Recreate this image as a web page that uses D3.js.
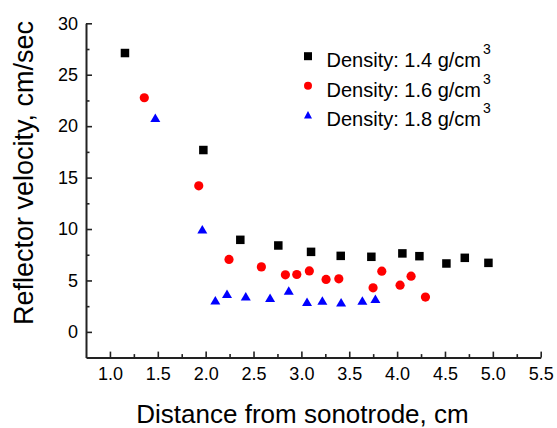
<!DOCTYPE html>
<meta charset="utf-8">
<style>
  body { margin: 0; background: #fff; }
  text { font-family: Arial, "Liberation Sans", sans-serif; fill: #000; }
  .axis path, .axis line { stroke: #222; }
</style>
<body>
<script src="https://d3js.org/d3.v7.min.js"></script>
<script>

// distance (cm) and reflector velocity (cm/sec)
var x14 = [1.157, 1.976, 2.362, 2.759, 3.101, 3.411, 3.731, 4.055, 4.233, 4.515, 4.707, 4.954];
var v14 = [27.11, 17.68, 8.95, 8.40, 7.78, 7.39, 7.30, 7.63, 7.36, 6.65, 7.20, 6.71];

var x16 = [1.359, 1.928, 2.244, 2.582, 2.833, 2.952, 3.083, 3.258, 3.391, 3.749, 3.840, 4.031, 4.146, 4.296];
var v16 = [22.76, 14.20, 7.04, 6.32, 5.55, 5.58, 5.93, 5.10, 5.16, 4.28, 5.90, 4.54, 5.42, 3.38];

var x18 = [1.474, 1.965, 2.101, 2.223, 2.419, 2.673, 2.868, 3.059, 3.219, 3.415, 3.637, 3.773];
var v18 = [20.82, 9.99, 3.08, 3.70, 3.47, 3.31, 4.03, 2.92, 3.05, 2.89, 3.05, 3.21];

var xTicks = [1.0, 1.5, 2.0, 2.5, 3.0, 3.5, 4.0, 4.5, 5.0, 5.5];
var yTicks = [0, 5, 10, 15, 20, 25, 30];
var seriesNames = ["Density: 1.4 g/cm", "Density: 1.6 g/cm", "Density: 1.8 g/cm"];

var width = 557,
    height = 428;

var x = d3.scaleLinear().domain([0.75, 5.5]).range([86, 540.7]);
var y = d3.scaleLinear().domain([-2.5, 30]).range([357.6, 23.3]);

var svg = d3.select("body").append("svg")
    .attr("width", width)
    .attr("height", height);

// minor ticks
svg.append("g")
    .attr("class", "axis")
    .attr("transform", "translate(0," + y.range()[0] + ")")
    .call(d3.axisBottom(x).tickValues(d3.range(1.25, 5.5, 0.5)).tickSize(-3.5).tickFormat(""))
    .call(function(g) { g.select(".domain").remove(); })
    .selectAll("line").attr("stroke-width", 1.6);

svg.append("g")
    .attr("class", "axis")
    .attr("transform", "translate(" + x.range()[0] + ",0)")
    .call(d3.axisLeft(y).tickValues(d3.range(2.5, 30, 5)).tickSize(-3.5).tickFormat(""))
    .call(function(g) { g.select(".domain").remove(); })
    .selectAll("line").attr("stroke-width", 1.6);

// major axes
var xAxis = svg.append("g")
    .attr("class", "axis")
    .attr("transform", "translate(0," + y.range()[0] + ")")
    .call(d3.axisBottom(x).tickValues(xTicks).tickSize(-6).tickSizeOuter(0).tickPadding(9.5)
      .tickFormat(d3.format(".1f")));

var yAxis = svg.append("g")
    .attr("class", "axis")
    .attr("transform", "translate(" + x.range()[0] + ",0)")
    .call(d3.axisLeft(y).tickValues(yTicks).tickSize(-6).tickSizeOuter(0).tickPadding(8));

[xAxis, yAxis].forEach(function(g) {
  g.select(".domain").attr("stroke-width", 2);
  g.selectAll(".tick line").attr("stroke-width", 1.6);
  g.selectAll("text").style("font-size", "18px").attr("fill", "#000");
});

// axis titles
svg.append("text")
    .attr("x", 302.5)
    .attr("y", 423)
    .attr("text-anchor", "middle")
    .style("font-size", "26px")
    .text("Distance from sonotrode, cm");

svg.append("text")
    .attr("transform", "translate(33,173) rotate(-90)")
    .attr("text-anchor", "middle")
    .style("font-size", "27px")
    .text("Reflector velocity, cm/sec");

// markers
var sq = 8.5, rad = 4.6, tw = 10, th = 8.5;

function tri(w, h) {
  return "M0," + (-h / 2) + "L" + (w / 2) + "," + (h / 2) + "L" + (-w / 2) + "," + (h / 2) + "Z";
}

svg.append("g").selectAll("rect")
    .data(d3.zip(x14, v14))
  .enter().append("rect")
    .attr("x", function(d) { return x(d[0]) - sq / 2; })
    .attr("y", function(d) { return y(d[1]) - sq / 2; })
    .attr("width", sq)
    .attr("height", sq)
    .attr("fill", "#000");

svg.append("g").selectAll("circle")
    .data(d3.zip(x16, v16))
  .enter().append("circle")
    .attr("cx", function(d) { return x(d[0]); })
    .attr("cy", function(d) { return y(d[1]); })
    .attr("r", rad)
    .attr("fill", "#ff0000");

svg.append("g").selectAll("path")
    .data(d3.zip(x18, v18))
  .enter().append("path")
    .attr("transform", function(d) { return "translate(" + x(d[0]) + "," + y(d[1]) + ")"; })
    .attr("d", tri(tw, th))
    .attr("fill", "#0000ff");

// legend
var legend = svg.append("g");
var rowY = [67, 96.5, 125.5];

seriesNames.forEach(function(name, i) {
  var row = legend.append("g").attr("transform", "translate(308," + (rowY[i] - 10.8) + ")");
  if (i == 0) {
    row.append("rect").attr("x", -4).attr("y", -4).attr("width", 8).attr("height", 8).attr("fill", "#000");
  } else if (i == 1) {
    row.append("circle").attr("r", 4).attr("fill", "#ff0000");
  } else {
    row.append("path").attr("d", tri(8, 7.5)).attr("fill", "#0000ff");
  }
  var t = legend.append("text")
      .attr("x", 326.5)
      .attr("y", rowY[i])
      .style("font-size", "20px")
      .text(name);
  t.append("tspan")
      .attr("dy", -13)
      .attr("dx", 2)
      .style("font-size", "14px")
      .text("3");
});

</script>
</body>
</html>
